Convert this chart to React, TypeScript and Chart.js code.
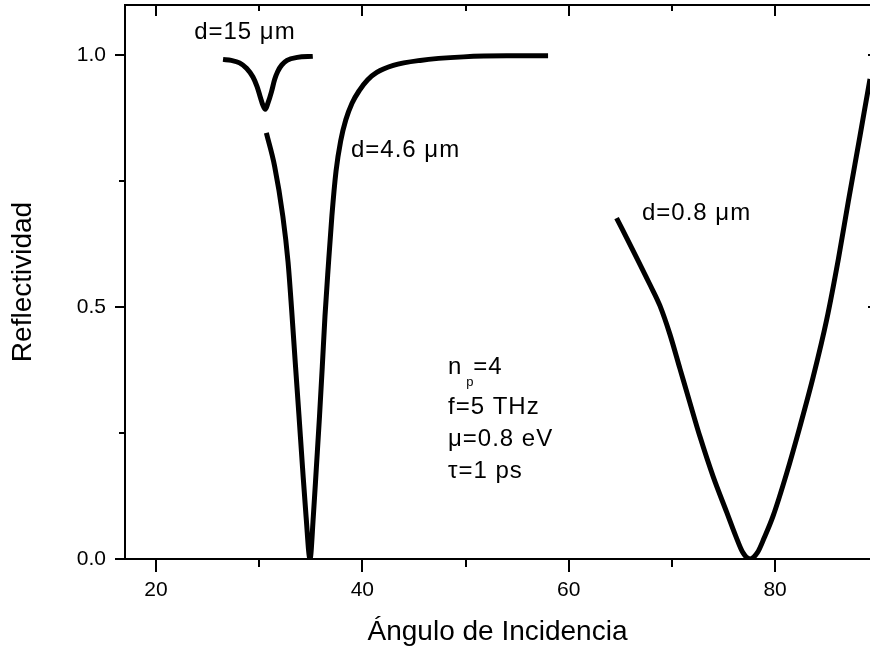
import React, { useEffect, useRef } from 'react';
import { Chart, registerables } from 'chart.js';

Chart.register(...registerables);

// ---- axis ticks ----
const xMajorTicks = [20, 40, 60, 80];
const xMinorTicks = [30, 50, 70];
const yMajorTicks = [0, 0.5, 1.0];
const yMinorTicks = [0.25, 0.75];

// ---- series: d = 15 µm ----
const d15X = [26.5, 27.3, 28.1, 28.8, 29.4, 29.8, 30.1, 30.35, 30.6, 30.85, 31.2, 31.5, 31.8, 32.2, 32.7, 33.7, 35.2];
const d15Y = [0.992, 0.99, 0.985, 0.974, 0.957, 0.938, 0.918, 0.902, 0.893, 0.905, 0.928, 0.952, 0.968, 0.981, 0.99, 0.996, 0.998];

// ---- series: d = 4.6 µm ----
const d46X = [30.7, 31.5, 32.3, 32.8, 33.15, 33.5, 33.85, 34.2, 34.55, 34.93, 35.25, 35.55, 35.85, 36.12, 36.38, 36.7, 37.05, 37.45, 37.9, 38.4, 39.0, 39.7, 40.5, 41.4, 43.0, 45.6, 49.8, 54.0, 58.0];
const d46Y = [0.846, 0.78, 0.68, 0.59, 0.495, 0.39, 0.288, 0.183, 0.084, 0.0, 0.084, 0.183, 0.283, 0.382, 0.482, 0.581, 0.681, 0.77, 0.83, 0.872, 0.905, 0.93, 0.951, 0.966, 0.98, 0.99, 0.997, 0.999, 0.999];

// ---- series: d = 0.8 µm ----
const d08X = [64.64, 66.25, 67.87, 68.84, 69.81, 70.78, 71.75, 72.72, 74.01, 75.31, 76.2, 76.9, 77.58, 78.3, 78.95, 79.82, 81.12, 82.41, 83.7, 85.0, 86.13, 87.1, 88.23, 89.13, 89.2];
const d08Y = [0.677, 0.612, 0.545, 0.503, 0.446, 0.378, 0.31, 0.243, 0.163, 0.093, 0.045, 0.012, 0.0, 0.013, 0.042, 0.086, 0.17, 0.263, 0.362, 0.475, 0.595, 0.71, 0.84, 0.945, 0.953];

const seriesLabels = ['d=15 μm', 'd=4.6 μm', 'd=0.8 μm'];
const paramLines = ['f=5 THz', 'μ=0.8 eV', 'τ=1 ps'];

const FONT = '"Liberation Sans", Arial, Helvetica, sans-serif';

// label placement (data coordinates)
const labelPos = [
  { x: 23.7, y: 1.046 },
  { x: 38.9, y: 0.811 },
  { x: 67.1, y: 0.686 },
];
const paramPos = { x: 48.3, y: [0.380, 0.301, 0.237, 0.173] };

function pts(xs: number[], ys: number[]) {
  return xs.map((x, i) => ({ x, y: ys[i] }));
}

const framePlugin = {
  id: 'frame',
  afterDraw(chart: any) {
    const { ctx, chartArea, scales } = chart;
    const { left, right, top, bottom } = chartArea;
    const xs = scales.x;
    const ys = scales.y;
    ctx.save();
    ctx.strokeStyle = '#000';
    ctx.lineWidth = 2;
    ctx.lineCap = 'butt';
    const line = (x1: number, y1: number, x2: number, y2: number) => {
      ctx.beginPath();
      ctx.moveTo(x1, y1);
      ctx.lineTo(x2, y2);
      ctx.stroke();
    };
    // axes lines
    line(left, top, left, bottom + 1);
    line(left - 1, bottom, right, bottom);
    line(left - 1, top, right, top);
    // x ticks
    xMajorTicks.forEach((v) => {
      const p = Math.round(xs.getPixelForValue(v));
      line(p, bottom, p, bottom + 13);
      line(p, top, p, top + 11);
    });
    xMinorTicks.forEach((v) => {
      const p = Math.round(xs.getPixelForValue(v));
      line(p, bottom, p, bottom + 8);
      line(p, top, p, top + 6);
    });
    // y ticks
    const rightAxis = right + 8;
    yMajorTicks.forEach((v) => {
      const p = Math.round(ys.getPixelForValue(v));
      line(left - 10, p, left, p);
      line(rightAxis - 10, p, rightAxis, p);
    });
    yMinorTicks.forEach((v) => {
      const p = Math.round(ys.getPixelForValue(v));
      line(left - 6, p, left, p);
      line(rightAxis - 6, p, rightAxis, p);
    });

    // annotations
    ctx.fillStyle = '#000';
    ctx.textAlign = 'left';
    ctx.textBaseline = 'middle';
    ctx.font = `24px ${FONT}`;
    (ctx as any).letterSpacing = '1px';
    seriesLabels.forEach((t, i) => {
      ctx.fillText(t, xs.getPixelForValue(labelPos[i].x), ys.getPixelForValue(labelPos[i].y));
    });
    const px = xs.getPixelForValue(paramPos.x);
    // n_p = 4 with subscript
    const y0 = ys.getPixelForValue(paramPos.y[0]);
    ctx.fillText('n', px, y0);
    const nW = ctx.measureText('n').width;
    ctx.font = `13px ${FONT}`;
    ctx.fillText('p', px + nW + 4, y0 + 15);
    ctx.font = `24px ${FONT}`;
    ctx.fillText('=4', px + nW + 11, y0);
    paramLines.forEach((t, i) => {
      ctx.fillText(t, px, ys.getPixelForValue(paramPos.y[i + 1]));
    });
    ctx.restore();
  },
};

export default function App() {
  const ref = useRef<HTMLCanvasElement | null>(null);
  useEffect(() => {
    if (!ref.current) return;
    const common = {
      borderColor: '#000',
      borderWidth: 5,
      pointRadius: 0,
      fill: false,
      cubicInterpolationMode: 'monotone' as const,
    };
    const chart = new Chart(ref.current, {
      type: 'line',
      data: {
        datasets: [
          { label: seriesLabels[0], data: pts(d15X, d15Y), ...common },
          { label: seriesLabels[1], data: pts(d46X, d46Y), ...common },
          { label: seriesLabels[2], data: pts(d08X, d08Y), ...common },
        ],
      },
      options: {
        animation: false,
        responsive: false,
        layout: { padding: { top: 5, right: 0, bottom: 0, left: 0 } },
        plugins: { legend: { display: false }, tooltip: { enabled: false } },
        scales: {
          x: {
            type: 'linear',
            min: 17,
            max: 89.2,
            grid: { display: false },
            border: { display: false },
            afterBuildTicks: (s: any) => {
              s.ticks = xMajorTicks.map((v) => ({ value: v }));
            },
            afterFit: (s: any) => {
              s.height = 94;
              s.paddingLeft = 0;
              s.paddingRight = 0;
            },
            ticks: {
              padding: 11,
              color: '#000',
              font: { family: FONT, size: 21 },
              maxRotation: 0,
              callback: (v: any) => String(v),
            },
            title: {
              display: true,
              text: 'Ángulo de Incidencia',
              color: '#000',
              font: { family: FONT, size: 28 },
              padding: { top: 0, bottom: 4 },
            },
          },
          y: {
            type: 'linear',
            min: 0,
            max: 1.1,
            grid: { display: false },
            border: { display: false },
            afterBuildTicks: (s: any) => {
              s.ticks = yMajorTicks.map((v) => ({ value: v }));
            },
            afterFit: (s: any) => {
              s.width = 125;
              s.paddingTop = 0;
              s.paddingBottom = 0;
            },
            ticks: {
              padding: 11,
              color: '#000',
              font: { family: FONT, size: 21 },
              callback: (v: any) => Number(v).toFixed(1),
            },
            title: {
              display: true,
              text: 'Reflectividad',
              color: '#000',
              font: { family: FONT, size: 28 },
              padding: { top: 6, bottom: 0 },
            },
          },
        },
      },
      plugins: [framePlugin],
    });
    return () => chart.destroy();
  }, []);
  return (
    <div style={{ position: 'fixed', left: 0, top: 0, width: 870, height: 653, background: '#fff' }}>
      <canvas ref={ref} width={870} height={653} style={{ display: 'block' }} />
    </div>
  );
}
